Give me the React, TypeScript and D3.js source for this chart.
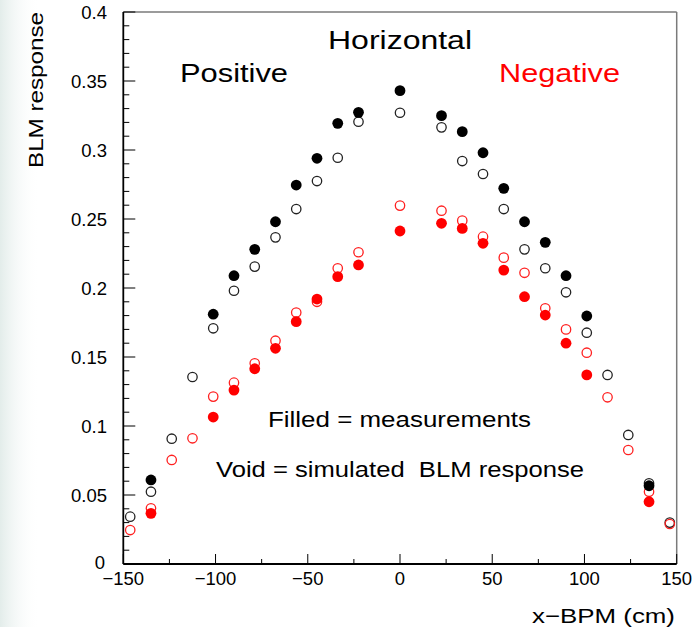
import React from "react";
import * as d3 from "d3";

const xFilled = [-135, -101.25, -90, -78.75, -67.5, -56.25, -45, -33.75, -22.5, 0, 22.5, 33.75, 45, 56.25, 67.5, 78.75, 90, 101.25, 135];
const xVoid = [-146.25, -135, -123.75, -112.5, -101.25, -90, -78.75, -67.5, -56.25, -45, -33.75, -22.5, 0, 22.5, 33.75, 45, 56.25, 67.5, 78.75, 90, 101.25, 112.5, 123.75, 135, 146.25];

const positiveMeasured = [0.0609, 0.181, 0.2089, 0.228, 0.248, 0.2746, 0.294, 0.3193, 0.3273, 0.343, 0.3249, 0.3133, 0.298, 0.2722, 0.248, 0.2331, 0.2089, 0.1797, 0.0567];
const positiveSimulated = [0.0343, 0.0524, 0.0908, 0.1355, 0.1708, 0.198, 0.2155, 0.2367, 0.2572, 0.2775, 0.2944, 0.3205, 0.327, 0.3164, 0.292, 0.2826, 0.2572, 0.228, 0.2143, 0.1969, 0.1676, 0.137, 0.0935, 0.0585, 0.030];
const negativeMeasured = [0.0367, 0.1065, 0.126, 0.1415, 0.1563, 0.1756, 0.192, 0.2082, 0.2167, 0.2413, 0.2469, 0.2432, 0.2324, 0.213, 0.1937, 0.1804, 0.16, 0.137, 0.0451];
const negativeSimulated = [0.0246, 0.0404, 0.0754, 0.0911, 0.1213, 0.1314, 0.1454, 0.1618, 0.1822, 0.190, 0.2143, 0.2259, 0.2597, 0.256, 0.2488, 0.2372, 0.222, 0.211, 0.1853, 0.17, 0.1531, 0.1208, 0.0826, 0.0524, 0.029];

const xMajorTicks = [-150, -100, -50, 0, 50, 100, 150];
const yMajorTicks = [0, 0.05, 0.1, 0.15, 0.2, 0.25, 0.3, 0.35, 0.4];
const yTickLabels = ["0", "0.05", "0.1", "0.15", "0.2", "0.25", "0.3", "0.35", "0.4"];

const W = 693, H = 627;
const L = 123.3, R = 676.7, T = 12, B = 564;
const FONT = "'Liberation Sans', Arial, sans-serif";

export default function App() {
  const x = d3.scaleLinear().domain([-150, 150]).range([L, R]);
  const y = d3.scaleLinear().domain([0, 0.4]).range([B, T]);
  const xMinor = d3.range(-150, 150.01, 25);
  const yMinor = d3.range(0, 0.4001, 0.01);
  const r = 5.4;

  return (
    <svg width={W} height={H} style={{ position: "absolute", left: 0, top: 0, background: "#fff" }}>
      <defs>
        <linearGradient id="bgfade" x1="0" x2="1" y1="0" y2="0">
          <stop offset="0" stopColor="#dce8e5" stopOpacity="0.8" />
          <stop offset="1" stopColor="#ffffff" stopOpacity="0" />
        </linearGradient>
      </defs>
      <rect x={0} y={0} width={W} height={H} fill="#fff" />
      <rect x={0} y={0} width={40} height={H} fill="url(#bgfade)" />

      {/* frame */}
      <line x1={L} x2={R} y1={T} y2={T} stroke="#7a7a7a" strokeWidth={1.5} />
      <line x1={R} x2={R} y1={T} y2={B} stroke="#7a7a7a" strokeWidth={1.5} />
      <line x1={L} x2={L} y1={T} y2={B} stroke="#000" strokeWidth={1.8} />
      <line x1={L} x2={R} y1={B} y2={B} stroke="#000" strokeWidth={1.8} />

      {/* x ticks */}
      {xMinor.map((v) => {
        const major = Math.abs(v % 50) < 1e-6;
        return <line key={"xt" + v} x1={x(v)} x2={x(v)} y1={B} y2={B - (major ? 10 : 5)} stroke="#000" strokeWidth={1} />;
      })}
      {xMajorTicks.map((v) => (
        <text key={"xl" + v} x={x(v)} y={585} textAnchor="middle" fontFamily={FONT} fontSize={18.5} fill="#000">
          {v < 0 ? "\u2212" + Math.abs(v) : String(v)}
        </text>
      ))}

      {/* y ticks */}
      {yMinor.map((v, i) => {
        const major = i % 5 === 0;
        return <line key={"yt" + i} x1={L} x2={L + (major ? 12 : 6)} y1={y(v)} y2={y(v)} stroke="#000" strokeWidth={1} />;
      })}
      {yMajorTicks.map((v, i) => (
        <text key={"yl" + i} x={v === 0 ? 105 : 107} y={y(v) - (v === 0 ? 2 : 0)} dy="0.36em" textAnchor="end" fontFamily={FONT} fontSize={18.5} fill="#000">
          {yTickLabels[i]}
        </text>
      ))}

      {/* axis titles */}
      <text x={675} y={623} textAnchor="end" fontFamily={FONT} fontSize={21} fill="#000" textLength={143} lengthAdjust="spacingAndGlyphs">
        x{"\u2212"}BPM (cm)
      </text>
      <text transform="translate(43,12) rotate(-90)" textAnchor="end" fontFamily={FONT} fontSize={21} fill="#000" textLength={156} lengthAdjust="spacingAndGlyphs">
        BLM response
      </text>

      {/* annotations */}
      <text x={328} y={49} fontFamily={FONT} fontSize={26} fill="#000" textLength={144} lengthAdjust="spacingAndGlyphs">Horizontal</text>
      <text x={180} y={82} fontFamily={FONT} fontSize={26} fill="#000" textLength={108} lengthAdjust="spacingAndGlyphs">Positive</text>
      <text x={499} y={82} fontFamily={FONT} fontSize={26} fill="#ff0000" textLength={121} lengthAdjust="spacingAndGlyphs">Negative</text>
      <text x={268} y={427} fontFamily={FONT} fontSize={22} fill="#000" textLength={263} lengthAdjust="spacingAndGlyphs">Filled = measurements</text>
      <text x={216} y={477} fontFamily={FONT} fontSize={22} fill="#000" textLength={368} lengthAdjust="spacingAndGlyphs" style={{ whiteSpace: "pre" }}>Void = simulated  BLM response</text>

      {/* markers */}
      {xVoid.map((v, i) => (
        <circle key={"po" + i} cx={x(v)} cy={y(positiveSimulated[i])} r={r - 0.7} fill="none" stroke="#222" strokeWidth={1.3} />
      ))}
      {xVoid.map((v, i) => (
        <circle key={"no" + i} cx={x(v)} cy={y(negativeSimulated[i])} r={r - 0.7} fill="none" stroke="#ff2020" strokeWidth={1.3} />
      ))}
      {xFilled.map((v, i) => (
        <circle key={"pf" + i} cx={x(v)} cy={y(positiveMeasured[i])} r={r} fill="#000" />
      ))}
      {xFilled.map((v, i) => (
        <circle key={"nf" + i} cx={x(v)} cy={y(negativeMeasured[i])} r={r} fill="#ff0000" />
      ))}
    </svg>
  );
}
